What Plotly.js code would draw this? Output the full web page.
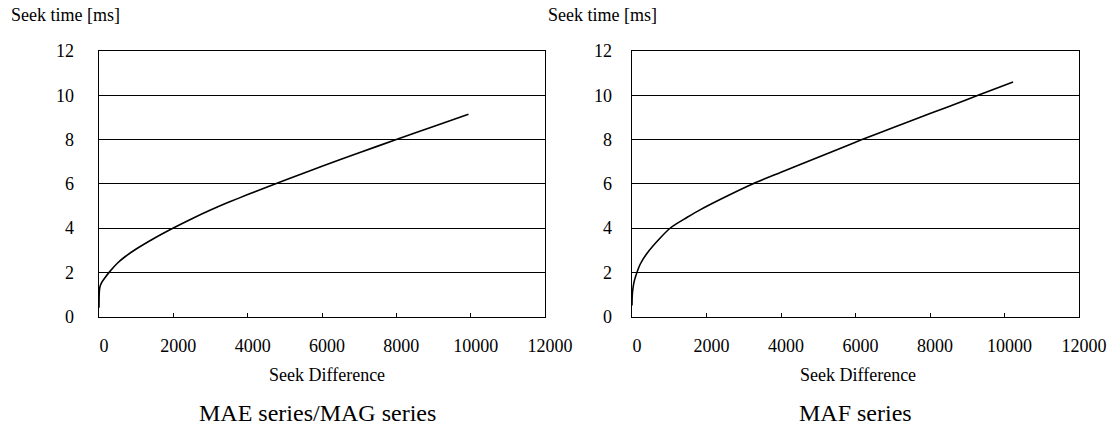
<!DOCTYPE html>
<html>
<head>
<meta charset="utf-8">
<script src="https://cdn.plot.ly/plotly-3.0.1.min.js"></script>
<style>html,body{margin:0;padding:0;background:#fff;}#chart{width:1107px;height:428px;}</style>
</head>
<body>
<div id="chart"></div>
<script>
// Data
const maeSeekDiff = [0, 5, 20, 60, 160, 300, 500, 700, 1000, 1500, 2000, 2500, 3000, 3500, 4000, 4700, 5500, 6000, 7000, 8000, 9000, 9940];
const maeSeekTime = [0.4, 1.0, 1.3, 1.5, 1.75, 2.05, 2.42, 2.7, 3.05, 3.55, 4.0, 4.42, 4.81, 5.17, 5.51, 5.97, 6.48, 6.79, 7.4, 8.0, 8.59, 9.14];
const mafSeekDiff = [0, 5, 20, 60, 135, 216, 400, 757, 1030, 1200, 1400, 1826, 2500, 3250, 4000, 5000, 6000, 6175, 7000, 8000, 9000, 9290, 10230];
const mafSeekTime = [0.5, 0.9, 1.2, 1.6, 2.0, 2.35, 2.85, 3.55, 4.0, 4.2, 4.4, 4.82, 5.4, 6.0, 6.52, 7.2, 7.88, 8.0, 8.53, 9.17, 9.81, 10.0, 10.6];
const xTicks = [0, 2000, 4000, 6000, 8000, 10000, 12000];
const yTicks = [0, 2, 4, 6, 8, 10, 12];
const yTitle = "Seek time [ms]";
const xTitle = "Seek Difference";
const captions = ["MAE series/MAG series", "MAF series"];

const FONT = "Liberation Serif";
const W = 1107, H = 428;
const px = v => v / W;
const py = v => 1 - v / H;

const traces = [
  {x: maeSeekDiff, y: maeSeekTime, xaxis: 'x', yaxis: 'y', mode: 'lines', line: {color: '#000', width: 1.6, shape: 'spline', smoothing: 0.8}, hoverinfo: 'skip'},
  {x: mafSeekDiff, y: mafSeekTime, xaxis: 'x2', yaxis: 'y2', mode: 'lines', line: {color: '#000', width: 1.6, shape: 'spline', smoothing: 0.8}, hoverinfo: 'skip'}
];

function xax(domain, anchor) {
  return {
    domain: domain, anchor: anchor, range: [0, 12000], tickvals: xTicks, ticktext: xTicks.map(String),
    showgrid: false, zeroline: false, showline: true, mirror: true, linecolor: '#000', linewidth: 1.3,
    ticks: 'inside', ticklen: 4, tickcolor: '#000', tickwidth: 1,
    tickfont: {family: FONT, size: 18, color: '#000'}, ticklabelstandoff: 13, ticklabelshift: 5, fixedrange: true
  };
}
function yax(domain, anchor, standoff) {
  return {
    domain: domain, anchor: anchor, range: [0, 12], tickvals: yTicks, ticktext: yTicks.map(String),
    showgrid: true, gridcolor: '#000', gridwidth: 1, zeroline: false,
    showline: true, mirror: true, linecolor: '#000', linewidth: 1.3, ticks: '',
    tickfont: {family: FONT, size: 18, color: '#000'}, ticklabelstandoff: standoff, fixedrange: true
  };
}

const ann = (text, x, y, size, xanchor) => ({
  text: text, xref: 'paper', yref: 'paper', x: px(x), y: py(y), xanchor: xanchor || 'center', yanchor: 'middle',
  showarrow: false, font: {family: FONT, size: size, color: '#000'}
});

const layout = {
  width: W, height: H, margin: {l: 0, r: 0, t: 0, b: 0}, showlegend: false,
  paper_bgcolor: '#fff', plot_bgcolor: '#fff',
  font: {family: FONT, color: '#000'},
  xaxis: xax([px(99), px(545)], 'y'),
  yaxis: yax([py(316.5), py(51)], 'x', 20),
  xaxis2: xax([px(632), px(1079)], 'y2'),
  yaxis2: yax([py(316.5), py(51)], 'x2', 15),
  annotations: [
    ann(yTitle, 9, 15, 18, 'left'),
    ann(yTitle, 546, 15, 18, 'left'),
    ann(xTitle, 327, 375, 18),
    ann(xTitle, 858, 375, 18),
    ann(captions[0], 317, 413, 24),
    ann(captions[1], 855, 413, 24)
  ]
};

Plotly.newPlot('chart', traces, layout, {staticPlot: true, displayModeBar: false});
</script>
</body>
</html>
